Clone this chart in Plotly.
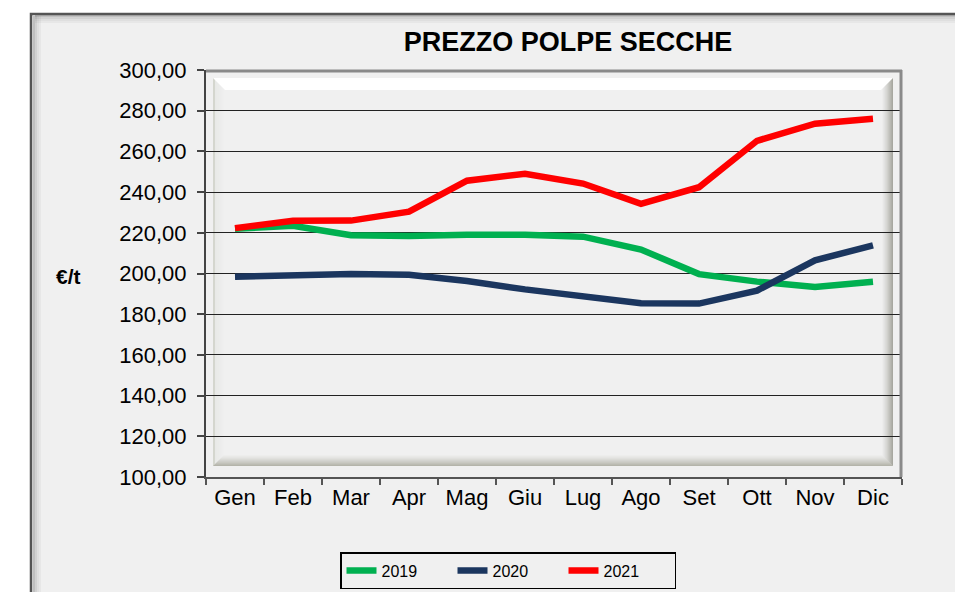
import plotly.graph_objects as go

months = ["Gen", "Feb", "Mar", "Apr", "Mag", "Giu", "Lug", "Ago", "Set", "Ott", "Nov", "Dic"]
v2019 = [222.0, 223.5, 218.8, 218.4, 219.0, 219.0, 218.1, 211.8, 199.7, 196.0, 193.4, 196.0]
v2020 = [198.4, 198.9, 199.8, 199.4, 196.3, 192.2, 189.0, 185.4, 185.2, 191.6, 206.5, 213.8]
v2021 = [222.3, 225.9, 226.0, 230.4, 245.6, 249.0, 244.2, 234.2, 242.4, 265.2, 273.6, 276.0]
series_names = ["2019", "2020", "2021"]
series_colors = ["#00b050", "#1b365f", "#ff0000"]

# page is offset by the 8px body margin
OFF = 8
FW, FH = 963 - OFF, 592 - OFF
# plot area in page pixels
L, R, T, B = 206, 902, 70, 477
W, H = R - L, B - T


def px(x):
    return (x - L) / W


def py(y):
    return (B - y) / H


def quad(pts, col):
    path = "M " + " L ".join(f"{px(a)} {py(b)}" for a, b in pts) + " Z"
    return dict(type="path", xref="paper", yref="paper", layer="below",
                path=path, fillcolor=col, line=dict(width=0))


fig = go.Figure()
for name, vals, col in zip(series_names, [v2019, v2020, v2021], series_colors):
    fig.add_trace(go.Scatter(x=months, y=vals, name=name, mode="lines",
                             line=dict(color=col, width=6.5)))

shapes = []
# outer frame
shapes.append(dict(type="rect", xref="paper", yref="paper", layer="below",
                   x0=px(31), x1=px(1000), y0=py(640), y1=py(14),
                   fillcolor="#f0f0f0", line=dict(color="#555555", width=2.5)))
for i, op in enumerate([0.20, 0.12, 0.07, 0.035]):
    shapes.append(dict(type="rect", xref="paper", yref="paper", layer="below",
                       x0=px(33 + 2 * i), x1=px(35 + 2 * i), y0=py(640), y1=py(16),
                       fillcolor=f"rgba(0,0,0,{op})", line=dict(width=0)))
    shapes.append(dict(type="rect", xref="paper", yref="paper", layer="below",
                       x0=px(35), x1=px(1000), y0=py(17 + 2 * i), y1=py(15 + 2 * i),
                       fillcolor=f"rgba(0,0,0,{op})", line=dict(width=0)))

# raised inner panel bevel
X0, X1, Y0, Y1 = 213, 893, 78, 466
D = 12
for k in range(D):
    a, b = k, k + 1
    t = k / (D - 1)
    shapes.append(quad([(X0 + a, Y0 + a), (X1 - a, Y0 + a), (X1 - b, Y0 + b), (X0 + b, Y0 + b)],
                       "rgba(255,255,255,0.95)"))
    lop = 0.30 if k < 2 else 0.10 * (1 - t)
    shapes.append(quad([(X0 + a, Y0 + a), (X0 + b, Y0 + b), (X0 + b, Y1 - b), (X0 + a, Y1 - a)],
                       f"rgba(150,155,130,{lop:.3f})"))
    rop = 0.55 * (1 - t) ** 1.3
    shapes.append(quad([(X1 - a, Y0 + a), (X1 - a, Y1 - a), (X1 - b, Y1 - b), (X1 - b, Y0 + b)],
                       f"rgba(110,110,95,{rop:.3f})"))
    bop = 0.5 * (1 - t) ** 1.3
    shapes.append(quad([(X0 + a, Y1 - a), (X1 - a, Y1 - a), (X1 - b, Y1 - b), (X0 + b, Y1 - b)],
                       f"rgba(120,120,100,{bop:.3f})"))

shapes.append(dict(type="line", xref="paper", yref="paper", layer="above",
                   x0=px(901), x1=px(901), y0=py(477), y1=py(70),
                   line=dict(color="#8a8a8a", width=3)))
shapes.append(dict(type="line", xref="paper", yref="paper", layer="above",
                   x0=px(206), x1=px(902), y0=py(71), y1=py(71),
                   line=dict(color="#8a8a8a", width=3)))

fig.update_layout(
    width=FW, height=FH,
    margin=dict(l=L - OFF, r=FW - (R - OFF), t=T - OFF, b=FH - (B - OFF)),
    paper_bgcolor="white",
    plot_bgcolor="#f4f8e6",
    separators=",.",
    font=dict(family="Liberation Sans, Arial, sans-serif", color="#000000"),
    title=dict(text="<b>PREZZO POLPE SECCHE</b>", x=px(568), xref="paper", xanchor="center",
               y=1 - (42 - OFF) / FH, yanchor="middle", font=dict(size=27, color="#000000")),
    shapes=shapes,
    showlegend=True,
    legend=dict(orientation="h", x=(508 - OFF) / FW, xref="container", xanchor="center",
                y=1 - (552 - OFF) / FH, yref="container", yanchor="top",
                bgcolor="#f0f0f0", bordercolor="#000000", borderwidth=1.5,
                font=dict(size=16, color="#000000"), itemwidth=30,
                entrywidthmode="pixels", entrywidth=66),
    annotations=[dict(text="<b>€/t</b>", xref="paper", yref="paper", x=px(68), y=py(276),
                      xanchor="center", yanchor="middle", showarrow=False,
                      font=dict(size=21, color="#000000"))],
)

fig.update_xaxes(
    type="category", showgrid=False, showline=True, linecolor="#555555", linewidth=2,
    ticks="outside", tickson="boundaries", ticklen=6, tickcolor="#555555", tickwidth=1.5,
    tickfont=dict(size=22, color="#000000"), zeroline=False, range=[-0.5, 11.5],
)
fig.update_yaxes(
    range=[100, 300], dtick=20, tick0=100, tickformat=".2f",
    showgrid=True, gridcolor="#222222", gridwidth=1,
    showline=True, linecolor="#444444", linewidth=2,
    ticks="outside", ticklen=7, tickcolor="#444444", tickwidth=1.5,
    tickfont=dict(size=22, color="#000000"), zeroline=False, ticklabelstandoff=6,
)

fig.write_html("out.html")
